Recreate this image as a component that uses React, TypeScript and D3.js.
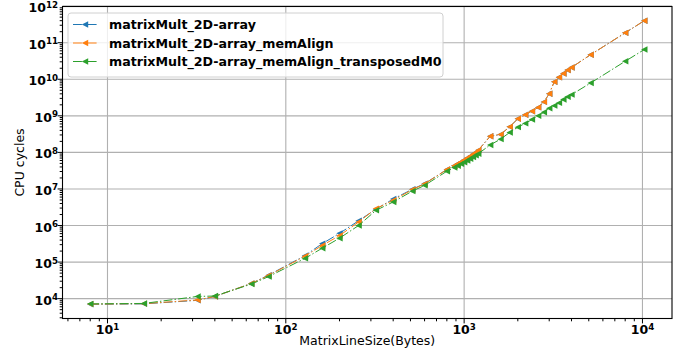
import React, { useEffect, useRef } from 'react';
import * as d3 from 'd3';

// matrix line size in bytes
const sizes = [8, 16, 32, 40, 64, 80, 128, 160, 200, 256, 320, 400, 512, 600, 800, 880, 920, 960, 1000, 1040, 1080, 1120, 1160, 1200, 1400, 1600, 1800, 2000, 2200, 2400, 2600, 2800, 3000, 3200, 3400, 3600, 3800, 4000, 5120, 8000, 10240];

const cycles2D = [7.0e3, 7.2e3, 9.0e3, 1.15e4, 2.6e4, 4.4e4, 1.5e5, 3.2e5, 6.1e5, 1.35e6, 2.8e6, 5.3e6, 9.8e6, 1.4e7, 3.4e7, 4.3e7, 4.9e7, 5.5e7, 6.2e7, 7.0e7, 7.9e7, 8.9e7, 1.0e8, 1.15e8, 2.76e8, 3.1e8, 5.0e8, 8.3e8, 1.07e9, 1.34e9, 1.7e9, 2.4e9, 4.0e9, 8.5e9, 1.13e10, 1.44e10, 1.78e10, 2.1e10, 4.7e10, 1.86e11, 4.0e11];

const cyclesMemAlign = [7.1e3, 7.3e3, 9.2e3, 1.15e4, 2.6e4, 4.3e4, 1.45e5, 2.85e5, 5.3e5, 1.25e6, 2.9e6, 4.9e6, 9.6e6, 1.38e7, 3.4e7, 4.3e7, 4.9e7, 5.5e7, 6.2e7, 7.0e7, 7.9e7, 8.9e7, 1.0e8, 1.15e8, 2.76e8, 3.1e8, 5.0e8, 8.3e8, 1.07e9, 1.34e9, 1.7e9, 2.4e9, 4.0e9, 8.5e9, 1.13e10, 1.44e10, 1.78e10, 2.1e10, 4.7e10, 1.86e11, 4.0e11];

const cyclesTransposed = [7.2e3, 7.4e3, 1.15e4, 1.18e4, 2.5e4, 4.0e4, 1.26e5, 2.4e5, 4.5e5, 1.0e6, 2.6e6, 4.4e6, 8.7e6, 1.25e7, 3.05e7, 3.85e7, 4.3e7, 4.85e7, 5.4e7, 6.0e7, 6.7e7, 7.45e7, 8.3e7, 9.2e7, 1.6e8, 2.3e8, 3.5e8, 4.9e8, 6.2e8, 7.9e8, 1.0e9, 1.25e9, 1.6e9, 1.9e9, 2.26e9, 2.8e9, 3.3e9, 3.8e9, 7.9e9, 3.1e10, 6.5e10];

const seriesNames = ['matrixMult_2D-array', 'matrixMult_2D-array_memAlign', 'matrixMult_2D-array_memAlign_transposedM0'];
const seriesColors = ['#1f77b4', '#ff7f0e', '#2ca02c'];
const xTickExps = [1, 2, 3, 4];
const yTickExps = [4, 5, 6, 7, 8, 9, 10, 11, 12];

const W = 676, H = 348;
const font = '"DejaVu Sans", sans-serif';

// log domain padded by 5% like matplotlib autoscale
function padLog(vals: number[]): [number, number] {
  const [lo, hi] = d3.extent(vals) as [number, number];
  const a = Math.log10(lo), b = Math.log10(hi);
  const m = (b - a) * 0.05;
  return [Math.pow(10, a - m), Math.pow(10, b + m)];
}

const triLeft = (r: number) => `M${-r},0L${r},${-r}L${r},${r}Z`;

export default function App() {
  const ref = useRef<SVGSVGElement>(null);

  useEffect(() => {
    const svg = d3.select(ref.current);
    svg.selectAll('*').remove();

    const left = 62.5, right = 672, top = 6.5, bottom = 318.5;
    const all = [cycles2D, cyclesMemAlign, cyclesTransposed];

    const x = d3.scaleLog().domain(padLog(sizes)).range([left, right]);
    const y = d3.scaleLog().domain(padLog(all.flat())).range([bottom, top]);

    const [x0, x1] = x.domain();
    const [y0, y1] = y.domain();

    // grid
    const grid = svg.append('g').attr('stroke', '#b0b0b0').attr('stroke-width', 1.1);
    xTickExps.forEach(e => {
      const px = x(Math.pow(10, e));
      grid.append('line').attr('x1', px).attr('x2', px).attr('y1', top).attr('y2', bottom);
    });
    yTickExps.forEach(e => {
      const py = y(Math.pow(10, e));
      if (py < top - 0.5) return;
      grid.append('line').attr('x1', left).attr('x2', right).attr('y1', py).attr('y2', py);
    });

    // series
    const line = d3.line<[number, number]>().x(d => x(d[0])).y(d => y(d[1]));
    all.forEach((vals, i) => {
      const pts = sizes.map((s, j) => [s, vals[j]] as [number, number]);
      svg.append('path')
        .attr('d', line(pts))
        .attr('fill', 'none')
        .attr('stroke', seriesColors[i])
        .attr('stroke-width', 1)
        .attr('stroke-dasharray', '8.9,2.2,1.4,2.2');
      svg.append('g').selectAll('path').data(pts).enter().append('path')
        .attr('d', triLeft(3.2))
        .attr('transform', d => `translate(${x(d[0])},${y(d[1])})`)
        .attr('fill', seriesColors[i]);
    });

    // frame
    svg.append('rect')
      .attr('x', left).attr('y', top).attr('width', right - left).attr('height', bottom - top)
      .attr('fill', 'none').attr('stroke', '#000').attr('stroke-width', 1.1);

    // ticks
    const ticks = svg.append('g').attr('stroke', '#000').attr('stroke-width', 1);
    for (let e = Math.floor(Math.log10(x0)); e <= Math.ceil(Math.log10(x1)); e++) {
      for (let k = 1; k <= 9; k++) {
        const v = k * Math.pow(10, e);
        if (v < x0 || v > x1) continue;
        const px = x(v);
        ticks.append('line').attr('x1', px).attr('x2', px).attr('y1', bottom).attr('y2', bottom + (k === 1 ? 4.9 : 2.8));
      }
    }
    for (let e = Math.floor(Math.log10(y0)); e <= Math.ceil(Math.log10(y1)); e++) {
      for (let k = 1; k <= 9; k++) {
        const v = k * Math.pow(10, e);
        if (v < y0 || v > y1 * 1.01) continue;
        const py = y(v);
        ticks.append('line').attr('x1', left).attr('x2', left - (k === 1 ? 4.9 : 2.8)).attr('y1', py).attr('y2', py);
      }
    }

    // tick labels
    const tickLabel = (g: any, e: number) => {
      g.append('tspan').text('10');
      g.append('tspan').attr('dy', -4.5).attr('font-size', 8.7).text(String(e));
    };
    xTickExps.forEach(e => {
      const t = svg.append('text')
        .attr('x', x(Math.pow(10, e))).attr('y', 334)
        .attr('text-anchor', 'middle').attr('font-family', font)
        .attr('font-weight', 'bold').attr('font-size', 12.5);
      tickLabel(t, e);
    });
    yTickExps.forEach(e => {
      const t = svg.append('text')
        .attr('x', 58).attr('y', y(Math.pow(10, e)) + 6)
        .attr('text-anchor', 'end').attr('font-family', font)
        .attr('font-weight', 'bold').attr('font-size', 12.5);
      tickLabel(t, e);
    });

    // axis labels
    svg.append('text')
      .attr('x', (left + right) / 2).attr('y', 345)
      .attr('text-anchor', 'middle').attr('font-family', font).attr('font-size', 12.5)
      .text('MatrixLineSize(Bytes)');
    svg.append('text')
      .attr('transform', `translate(24,${(top + bottom) / 2}) rotate(-90)`)
      .attr('text-anchor', 'middle').attr('font-family', font).attr('font-size', 12.5)
      .text('CPU cycles');

    // legend
    const lg = svg.append('g');
    lg.append('rect')
      .attr('x', 68).attr('y', 13).attr('width', 375).attr('height', 64).attr('rx', 3)
      .attr('fill', 'rgba(255,255,255,0.8)').attr('stroke', '#d0d0d0').attr('stroke-width', 1);
    seriesNames.forEach((name, i) => {
      const cy = 24.5 + i * 18.5;
      lg.append('line').attr('x1', 73).attr('x2', 97).attr('y1', cy).attr('y2', cy)
        .attr('stroke', seriesColors[i]).attr('stroke-width', 1).attr('stroke-dasharray', '8.9,2.2,1.4,2.2');
      lg.append('path').attr('d', triLeft(3.2)).attr('transform', `translate(85,${cy})`).attr('fill', seriesColors[i]);
      lg.append('text').attr('x', 109).attr('y', cy + 4.5)
        .attr('font-family', font).attr('font-weight', 'bold').attr('font-size', 12.65)
        .text(name);
    });
  }, []);

  return <svg ref={ref} width={W} height={H} style={{ position: 'absolute', left: 0, top: 0, background: '#fff' }} />;
}
